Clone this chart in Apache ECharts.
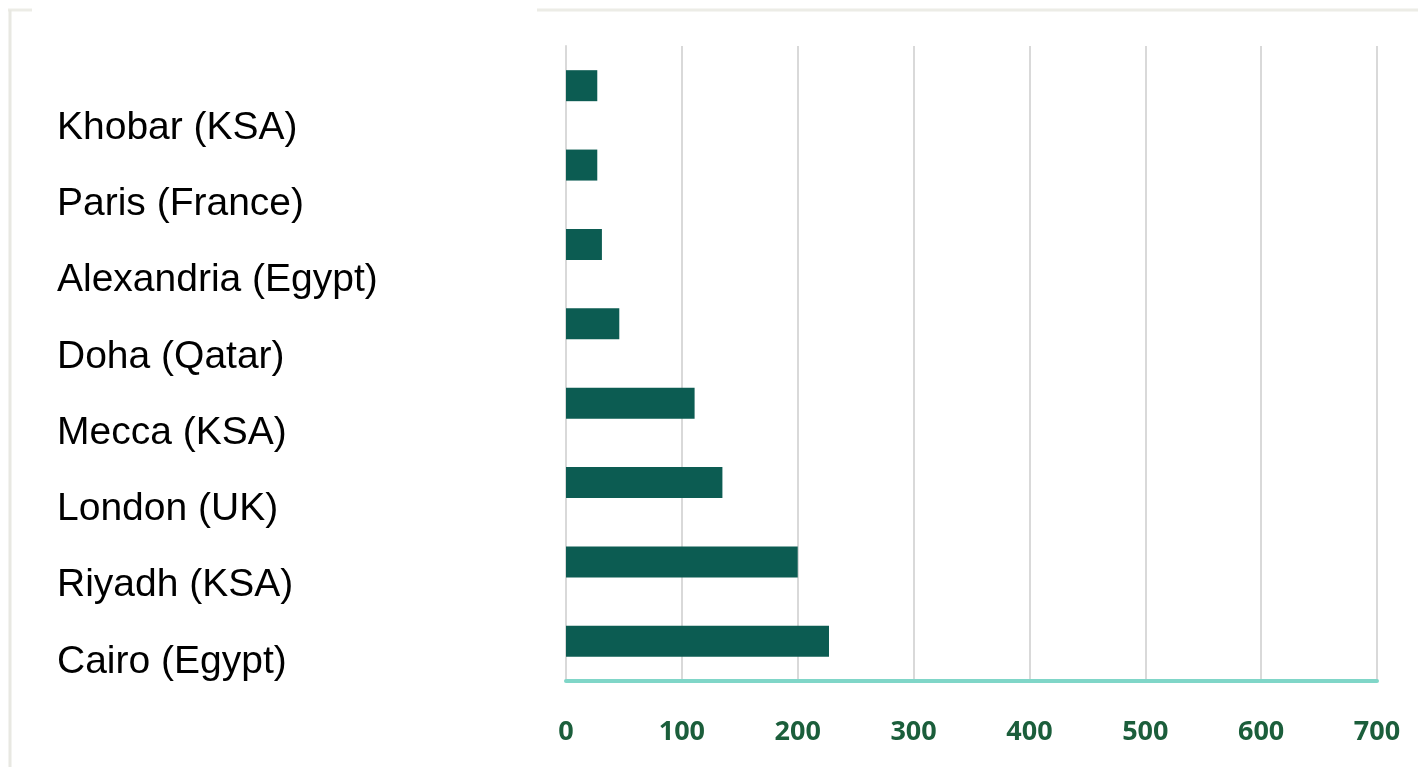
<!DOCTYPE html>
<html>
<head>
<meta charset="utf-8">
<script src="https://cdn.jsdelivr.net/npm/echarts@6/dist/echarts.min.js"></script>
<style>
html,body{margin:0;padding:0;background:#fff;}
#chart{width:1418px;height:767px;}
</style>
</head>
<body>
<div id="chart"></div>
<script>
const categories = ['Khobar (KSA)', 'Paris (France)', 'Alexandria (Egypt)', 'Doha (Qatar)', 'Mecca (KSA)', 'London (UK)', 'Riyadh (KSA)', 'Cairo (Egypt)'];
const values = [27, 27, 31, 46, 111, 135, 200, 227];
const xTicks = [0, 100, 200, 300, 400, 500, 600, 700];

const chart = echarts.init(document.getElementById('chart'));
chart.setOption({
  backgroundColor: '#ffffff',
  animation: false,
  graphic: [
    { type: 'line', shape: { x1: 537, y1: 10, x2: 1418, y2: 10 }, style: { stroke: '#ecece6', lineWidth: 3 } },
    { type: 'line', shape: { x1: 8, y1: 10, x2: 32, y2: 10 }, style: { stroke: '#ecece6', lineWidth: 3 } },
    { type: 'line', shape: { x1: 10, y1: 10, x2: 10, y2: 767 }, style: { stroke: '#e8e8e2', lineWidth: 3 } }
  ],
  grid: [
    { left: 566, right: 41, top: 46, bottom: 86 },
    { left: 400, width: 10, top: 90, bottom: 67 }
  ],
  xAxis: [
    {
      type: 'value', gridIndex: 0, min: xTicks[0], max: xTicks[xTicks.length - 1], interval: xTicks[1] - xTicks[0],
      axisLine: { show: true, onZero: false, lineStyle: { color: '#80d6c8', width: 4 } },
      axisTick: { show: false },
      axisLabel: { margin: 38, color: '#1b5e3b', fontSize: 27, fontWeight: 'bold', fontFamily: 'Open Sans' },
      splitLine: { show: true, lineStyle: { color: '#d9d9d9', width: 2 } }
    },
    { type: 'value', gridIndex: 1, show: false }
  ],
  yAxis: [
    {
      type: 'category', gridIndex: 0, data: categories, inverse: true,
      axisLine: { show: true, lineStyle: { color: '#d9d9d9', width: 2 } },
      axisTick: { show: false },
      axisLabel: { show: false }
    },
    {
      type: 'category', gridIndex: 1, data: categories, inverse: true,
      axisLine: { show: false }, axisTick: { show: false },
      axisLabel: { align: 'left', margin: 343, fontSize: 39, color: '#000000', fontFamily: 'Liberation Sans' }
    }
  ],
  series: [
    {
      type: 'bar', xAxisIndex: 0, yAxisIndex: 0, data: values, barWidth: 31,
      itemStyle: { color: '#0c5c52' }
    }
  ]
});
</script>
</body>
</html>
